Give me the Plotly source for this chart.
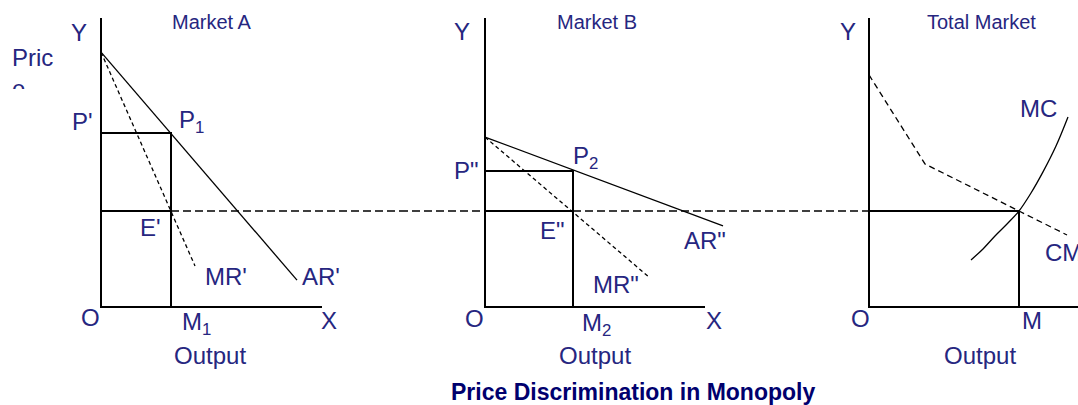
import plotly.graph_objects as go

W, H = 1078, 405

# ---------------- data (economic units: quantity, price) ----------------
mc_level = 4.0            # common MC = MR level (E', E'', equilibrium)
y_top = 12.04             # height of the price (Y) axes

# Market A
a_x_len = 11.05
a_ar_q = [0, 9.8]
a_ar_p = [10.62, 1.12]
a_mr_q = [0, 4.7]
a_mr_p = [10.62, 1.71]
a_m1 = 3.5
a_price = 7.25

# Market B
b_x_len = 11.0
b_ar_q = [0, 11.9]
b_ar_p = [7.08, 3.38]
b_mr_q = [0, 8.25]
b_mr_p = [7.08, 1.21]
b_m2 = 4.4
b_price = 5.67

# Total market
t_x_len = 10.45
t_cmr_q = [0, 2.8, 7.5, 9.9]
t_cmr_p = [9.67, 5.96, 4.0, 3.0]
t_mc_q = [5.1, 5.7, 6.3, 6.9, 7.5, 8.1, 8.7, 9.35, 9.95]
t_mc_p = [1.96, 2.42, 2.96, 3.46, 4.0, 4.75, 5.63, 6.71, 7.92]
t_m = 7.5

# ---------------- layout geometry ----------------
PX_Q, PX_P = 20.0, 24.0          # pixels per unit of quantity / price
ORIGIN_Y = 307                    # pixel row of the output axes
panels = {                        # axis: (left px, right px, origin px)
    "x": (0, 400, 101),
    "x2": (400, 790, 485),
    "x3": (790, 1078, 869),
}
y_range = [(ORIGIN_Y - H) / PX_P, ORIGIN_Y / PX_P]


def q_range(ax):
    l, r, o = panels[ax]
    return [(l - o) / PX_Q, (r - o) / PX_Q]


LABEL = "#262680"
TITLE = "#00006e"
FONT = "Liberation Sans, Arial, sans-serif"

fig = go.Figure()


def line(ax, q, p, width=2.0, dash="solid", shape="linear", color="#000"):
    fig.add_trace(go.Scatter(x=q, y=p, xaxis=ax, yaxis="y", mode="lines",
                             line=dict(color=color, width=width, dash=dash, shape=shape),
                             hoverinfo="skip", showlegend=False))


DASH_H = "8px,4px"
DASH_MR = "4px,3px"

# ---- Market A ----
qa0, qa1 = q_range("x")
line("x", [a_x_len, 0, 0], [0, 0, y_top])                       # axes
line("x", [0, a_m1, a_m1], [a_price, a_price, 0])                # P' - P1 - M1
line("x", [0, a_m1], [mc_level, mc_level])                       # E' level
line("x", [a_m1, qa1], [mc_level, mc_level], 1.5, DASH_H)        # dashed link
line("x", a_ar_q, a_ar_p, 1.3)                                   # AR'
line("x", a_mr_q, a_mr_p, 1.3, DASH_MR)                          # MR'

# ---- Market B ----
qb0, qb1 = q_range("x2")
line("x2", [b_x_len, 0, 0], [0, 0, y_top])
line("x2", [0, b_m2, b_m2], [b_price, b_price, 0])
line("x2", [0, b_m2], [mc_level, mc_level])
line("x2", [qb0, 0, None, b_m2, qb1], [mc_level, mc_level, None, mc_level, mc_level], 1.5, DASH_H)
line("x2", b_ar_q, b_ar_p, 1.3)
line("x2", b_mr_q, b_mr_p, 1.3, DASH_MR)

# ---- Total market ----
qt0, qt1 = q_range("x3")
line("x3", [t_x_len, 0, 0], [0, 0, y_top])
line("x3", [qt0, 0], [mc_level, mc_level], 1.5, DASH_H)
line("x3", [0, t_m, t_m], [mc_level, mc_level, 0])
line("x3", t_cmr_q, t_cmr_p, 1.3, "6px,4px")
line("x3", t_mc_q, t_mc_p, 1.3, shape="spline")

# ---------------- labels ----------------
ann = []


def lab(ax, q, p, text, size=24, xanchor="center", yanchor="middle", color=LABEL, **kw):
    ann.append(dict(x=q, y=p, xref=ax, yref="y", text=text, showarrow=False,
                    xanchor=xanchor, yanchor=yanchor,
                    font=dict(family=FONT, size=size, color=color), **kw))


price_lbl = dict(height=45, valign="top", borderpad=0, borderwidth=0, align="left")

# Market A
lab("x", 5.55, 11.875, "Market A", 20)
lab("x", -1.1, 11.42, "Y")
lab("x", -4.45, 10.96, "Pric<br>e", xanchor="left", yanchor="top", **price_lbl)
lab("x", -0.95, 7.75, "P'")
lab("x", 4.5, 7.75, "P<sub>1</sub>")
lab("x", 2.45, 3.33, "E'")
lab("x", 6.25, 1.29, "MR'")
lab("x", 11.0, 1.29, "AR'")
lab("x", -0.55, -0.42, "O")
lab("x", 4.75, -0.67, "M<sub>1</sub>")
lab("x", 11.4, -0.58, "X")
lab("x", 5.45, -2.0, "Output")

# Market B
lab("x2", 5.6, 11.875, "Market B", 20)
lab("x2", -1.15, 11.46, "Y")
lab("x2", -4.5, 10.96, "Pric<br>e", xanchor="left", yanchor="top", **price_lbl)
lab("x2", -0.9, 5.67, 'P"')
lab("x2", 5.0, 6.25, "P<sub>2</sub>")
lab("x2", 3.35, 3.17, 'E"')
lab("x2", 6.55, 0.92, 'MR"')
lab("x2", 11.0, 2.79, 'AR"')
lab("x2", -0.5, -0.46, "O")
lab("x2", 5.55, -0.71, "M<sub>2</sub>")
lab("x2", 11.45, -0.58, "X")
lab("x2", 5.5, -2.0, "Output")

# Total market
lab("x3", 5.6, 11.875, "Total Market", 20)
lab("x3", -1.05, 11.46, "Y")
lab("x3", -4.45, 10.96, "Pric<br>e", xanchor="left", yanchor="top", **price_lbl)
lab("x3", 8.45, 8.29, "MC")
lab("x3", 8.7, 2.29, "CMR", xanchor="left")
lab("x3", -0.45, -0.46, "O")
lab("x3", 8.15, -0.58, "M")
lab("x3", 5.55, -2.0, "Output")

ann.append(dict(x=633 / W, y=(H - 392) / H, xref="paper", yref="paper",
                text="<b>Price Discrimination in Monopoly</b>", showarrow=False,
                xanchor="center", yanchor="middle",
                font=dict(family=FONT, size=23, color=TITLE)))

axis_common = dict(visible=False, fixedrange=True)
fig.update_layout(
    width=W, height=H,
    margin=dict(l=0, r=0, t=0, b=0),
    paper_bgcolor="white", plot_bgcolor="white",
    showlegend=False,
    xaxis=dict(domain=[panels["x"][0] / W, panels["x"][1] / W], range=q_range("x"), anchor="y", **axis_common),
    xaxis2=dict(domain=[panels["x2"][0] / W, panels["x2"][1] / W], range=q_range("x2"), anchor="y", **axis_common),
    xaxis3=dict(domain=[panels["x3"][0] / W, panels["x3"][1] / W], range=q_range("x3"), anchor="y", **axis_common),
    yaxis=dict(domain=[0, 1], range=y_range, anchor="x", **axis_common),
    annotations=ann,
)

fig.write_html("out.html", config={"displayModeBar": False},
               post_script="document.body.style.margin='0';document.body.style.overflow='hidden';")
